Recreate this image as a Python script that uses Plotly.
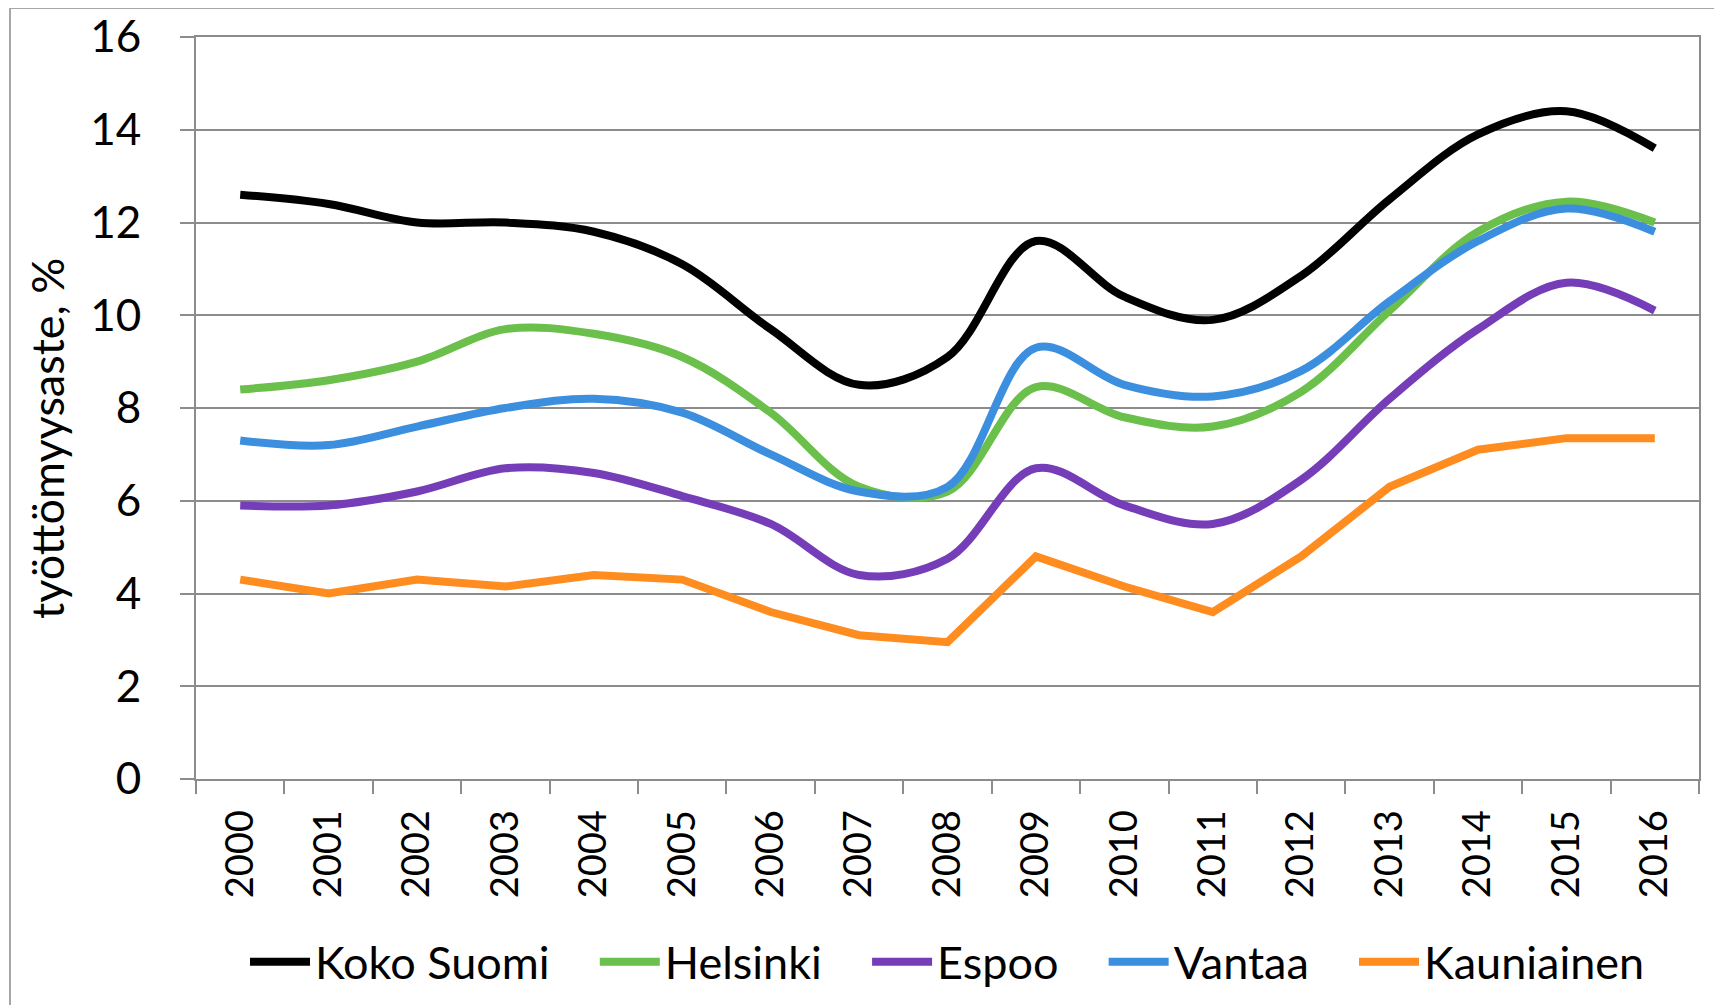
import plotly.graph_objects as go

years = [str(y) for y in range(2000, 2017)]
koko_suomi = [12.6, 12.4, 12.0, 12.0, 11.8, 11.1, 9.7, 8.5, 9.1, 11.6, 10.4, 9.9, 10.85, 12.5, 13.9, 14.4, 13.6]
helsinki = [8.4, 8.6, 9.0, 9.7, 9.6, 9.1, 7.9, 6.3, 6.2, 8.45, 7.8, 7.6, 8.35, 10.1, 11.8, 12.45, 12.0]
espoo = [5.9, 5.9, 6.2, 6.7, 6.6, 6.1, 5.5, 4.4, 4.75, 6.7, 5.9, 5.5, 6.45, 8.2, 9.7, 10.7, 10.1]
vantaa = [7.3, 7.2, 7.6, 8.0, 8.2, 7.9, 7.0, 6.2, 6.3, 9.3, 8.5, 8.25, 8.8, 10.3, 11.6, 12.3, 11.8]
kauniainen = [4.3, 4.0, 4.3, 4.15, 4.4, 4.3, 3.6, 3.1, 2.95, 4.8, 4.15, 3.6, 4.8, 6.3, 7.1, 7.35, 7.35]
y_ticks = [0, 2, 4, 6, 8, 10, 12, 14, 16]

series = [
    ("Koko Suomi", koko_suomi, "#000000", "spline"),
    ("Helsinki", helsinki, "#6BBF4B", "spline"),
    ("Espoo", espoo, "#753DB8", "spline"),
    ("Vantaa", vantaa, "#3C8FDE", "spline"),
    ("Kauniainen", kauniainen, "#FE8C1F", "linear"),
]

FONT = "Lato, Liberation Sans, sans-serif"
W, H = 1722, 1005
OFF = 8  # page body margin offset
# target plot area in screen pixels
SX0, SX1, SY0, SY1 = 196, 1699, 37, 779
L, T = SX0 - OFF, SY0 - OFF
R, B = W - (SX1 - OFF), H - (SY1 - OFF)
pw, ph = SX1 - SX0, SY1 - SY0


def px(sx):
    return (sx - SX0) / pw


def py(sy):
    return (SY1 - sy) / ph


PAD = "\u00a0" * 3 + "\u2009"

fig = go.Figure()
for i, (name, vals, color, shape) in enumerate(series):
    fig.add_trace(go.Scatter(
        x=years, y=vals, name=name + (PAD if i < len(series) - 1 else ""), mode="lines",
        line=dict(color=color, width=8, shape=shape, smoothing=1),
    ))

grid = "#8C8C8C"
fig.update_layout(
    width=W, height=H,
    margin=dict(l=L, r=R, t=T, b=B, autoexpand=False),
    paper_bgcolor="white", plot_bgcolor="white",
    font=dict(family=FONT, color="#000000"),
    showlegend=True,
    legend=dict(orientation="h", x=0.5, xanchor="center", y=py(962), yanchor="middle",
                font=dict(size=45, family=FONT), itemwidth=60, traceorder="normal"),
    xaxis=dict(type="category", range=[-0.5, 16.5], tickson="boundaries", ticks="outside",
               ticklen=13, tickwidth=2, automargin=False,
               tickcolor=grid, showline=True, linecolor=grid, linewidth=2, mirror=True,
               showgrid=False, tickangle=-90, tickfont=dict(size=38, family=FONT),
               ticklabelstandoff=14),
    yaxis=dict(range=[0, 16], tickvals=y_ticks, ticks="outside", ticklen=14, tickwidth=2,
               automargin=False,
               tickcolor=grid, showline=True, linecolor=grid, linewidth=2, mirror=True,
               showgrid=True, gridcolor=grid, gridwidth=2, zeroline=False,
               tickfont=dict(size=44, family=FONT), ticklabelstandoff=30),
    annotations=[dict(text="työttömyysaste, %", textangle=-90, xref="paper", yref="paper",
                      x=px(47), y=py(439), xanchor="center", yanchor="middle",
                      showarrow=False, font=dict(size=45, family=FONT))],
    shapes=[dict(type="rect", xref="paper", yref="paper",
                 x0=px(10), x1=px(1760), y0=py(1030), y1=py(8),
                 line=dict(color="#A6A6A6", width=2), layer="below")],
)

fig.write_html("out.html")
